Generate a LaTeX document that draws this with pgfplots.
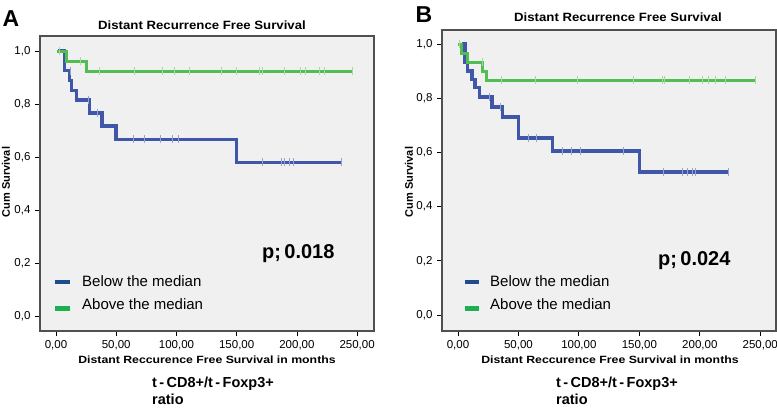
\documentclass[border=0pt]{standalone}
\usepackage{fontspec}
\setmainfont{Liberation Sans}
\usepackage{graphicx}
\usepackage{pgfplots}
\pgfplotsset{compat=1.18}

\definecolor{kmblue}{RGB}{64,86,168}
\definecolor{kmgreen}{RGB}{82,189,82}
\definecolor{lgblue}{RGB}{31,76,138}
\definecolor{lggreen}{RGB}{28,176,80}
\definecolor{bgc}{RGB}{240,240,240}
\definecolor{framec}{RGB}{80,80,80}

\pgfplotsset{kmaxis/.style={
  scale only axis, anchor=south west,
  axis background/.style={fill=bgc},
  axis line style={framec, line width=1.2pt},
  tick align=outside, xtick pos=bottom, ytick pos=left,
  major tick length=5pt, tick style={black, line width=0.8pt},
  xtick={0,50,100,150,200,250},
  xticklabels={{0,00},{50,00},{100,00},{150,00},{200,00},{250,00}},
  ytick={0,0.2,0.4,0.6,0.8,1},
  yticklabels={{0,0},{0,2},{0,4},{0,6},{0,8},{1,0}},
  tick label style={font=\fontsize{11.5}{12}\selectfont, text=black},
  xticklabel style={yshift=-1pt},
  yticklabel style={xshift=-1pt},
  clip=false,
},
blueline/.style={const plot, kmblue, line width=3.5pt},
greenline/.style={const plot, kmgreen, line width=3pt},
bluecens/.style={only marks, mark=|, mark size=4pt, color=kmblue!55!white, mark options={line width=0.8pt}},
greencens/.style={only marks, mark=|, mark size=4pt, color=kmgreen!55!white, mark options={line width=0.8pt}},
}

\begin{document}
\begin{tikzpicture}
\useasboundingbox (0,0) rectangle (777pt,408pt);

% ---------------- Panel A ----------------
\begin{axis}[kmaxis, at={(40pt,77pt)}, width=334pt, height=295pt,
  xmin=-13.3, xmax=264, ymin=-0.057, ymax=1.057]
\addplot[blueline] coordinates {(2,1) (7,0.926) (11,0.889) (13,0.852) (17,0.815) (28,0.766) (38,0.717) (50,0.667) (150,0.58) (237,0.58)};
\addplot[bluecens] coordinates {(12,0.926) (27,0.815) (34,0.766) (64,0.667) (73,0.667) (87,0.667) (97,0.667) (102,0.667) (171,0.58) (187,0.58) (190,0.58) (194,0.58) (197,0.58) (237,0.58)};
\addplot[greenline] coordinates {(1,1) (9,0.962) (25,0.923) (246,0.923)};
\addplot[greencens] coordinates {(3,1) (20,0.962) (36,0.923) (65,0.923) (88,0.923) (98,0.923) (111,0.923) (137,0.923) (150,0.923) (169,0.923) (171,0.923) (190,0.923) (203,0.923) (207,0.923) (219,0.923) (223,0.923) (246,0.923)};
\end{axis}

% ---------------- Panel B ----------------
\begin{axis}[kmaxis, at={(442pt,77pt)}, width=334pt, height=301pt,
  xmin=-13.2, xmax=263, ymin=-0.059, ymax=1.052]
\addplot[blueline] coordinates {(3,1) (6,0.934) (8,0.90) (11.5,0.87) (14,0.84) (18,0.804) (28,0.767) (37,0.73) (50,0.653) (78,0.605) (150,0.528) (224,0.528)};
\addplot[bluecens] coordinates {(26,0.804) (35,0.767) (58,0.653) (65,0.653) (86,0.605) (94,0.605) (101,0.605) (137,0.605) (170,0.528) (186,0.528) (190,0.528) (194,0.528) (196,0.528) (224,0.528)};
\addplot[greenline] coordinates {(0,1) (3,0.967) (7.5,0.933) (20.5,0.9) (24,0.867) (246,0.867)};
\addplot[greencens] coordinates {(1,1) (20,0.933) (36,0.867) (64,0.867) (99,0.867) (145,0.867) (169,0.867) (171,0.867) (191,0.867) (202,0.867) (207,0.867) (213,0.867) (221,0.867) (246,0.867)};
\end{axis}

% ---------------- Texts ----------------
\node[font=\fontsize{23}{23}\selectfont\bfseries] at (11pt,389.5pt) {A};
\node[font=\fontsize{23}{23}\selectfont\bfseries] at (424pt,393.5pt) {B};

\node[font=\fontsize{12}{12}\selectfont\bfseries] at (202pt,383pt) {\scalebox{1.1}[1]{Distant Recurrence Free Survival}};
\node[font=\fontsize{12}{12}\selectfont\bfseries] at (618pt,391pt) {\scalebox{1.1}[1]{Distant Recurrence Free Survival}};

\node[font=\fontsize{11}{11}\selectfont\bfseries, rotate=90] at (6pt,226pt) {Cum Survival};
\node[font=\fontsize{11}{11}\selectfont\bfseries, rotate=90] at (409pt,226pt) {Cum Survival};

\node[font=\fontsize{10.5}{10.5}\selectfont\bfseries] at (207pt,48pt) {\scalebox{1.17}[1]{Distant Reccurence Free Survival in months}};
\node[font=\fontsize{10.5}{10.5}\selectfont\bfseries] at (610pt,48pt) {\scalebox{1.17}[1]{Distant Reccurence Free Survival in months}};

\node[font=\fontsize{14.5}{14.5}\selectfont\bfseries, anchor=base west, inner sep=0pt] at (152pt,21pt) {t\,-\,CD8+/t\,-\,Foxp3+};
\node[font=\fontsize{14.5}{14.5}\selectfont\bfseries, anchor=base west, inner sep=0pt] at (152pt,4pt) {ratio};
\node[font=\fontsize{14.5}{14.5}\selectfont\bfseries, anchor=base west, inner sep=0pt] at (556pt,21pt) {t\,-\,CD8+/t\,-\,Foxp3+};
\node[font=\fontsize{14.5}{14.5}\selectfont\bfseries, anchor=base west, inner sep=0pt] at (556pt,4pt) {ratio};

% p-values
\node[font=\fontsize{20}{20}\selectfont\bfseries, anchor=base west, inner sep=0pt] at (262pt,150pt) {p;\,0.018};
\node[font=\fontsize{20}{20}\selectfont\bfseries, anchor=base west, inner sep=0pt] at (658pt,143pt) {p;\,0.024};

% legends
\fill[lgblue] (55pt,124pt) rectangle (70pt,128pt);
\fill[lggreen] (55pt,97pt) rectangle (70pt,102pt);
\node[font=\fontsize{15}{15}\selectfont, anchor=base west, inner sep=0pt] at (82pt,122pt) {Below the median};
\node[font=\fontsize{15}{15}\selectfont, anchor=base west, inner sep=0pt] at (82pt,99pt) {Above the median};
\fill[lgblue] (465pt,124pt) rectangle (479pt,128pt);
\fill[lggreen] (465pt,97pt) rectangle (479pt,102pt);
\node[font=\fontsize{15}{15}\selectfont, anchor=base west, inner sep=0pt] at (490pt,122pt) {Below the median};
\node[font=\fontsize{15}{15}\selectfont, anchor=base west, inner sep=0pt] at (490pt,99pt) {Above the median};
\end{tikzpicture}
\end{document}
